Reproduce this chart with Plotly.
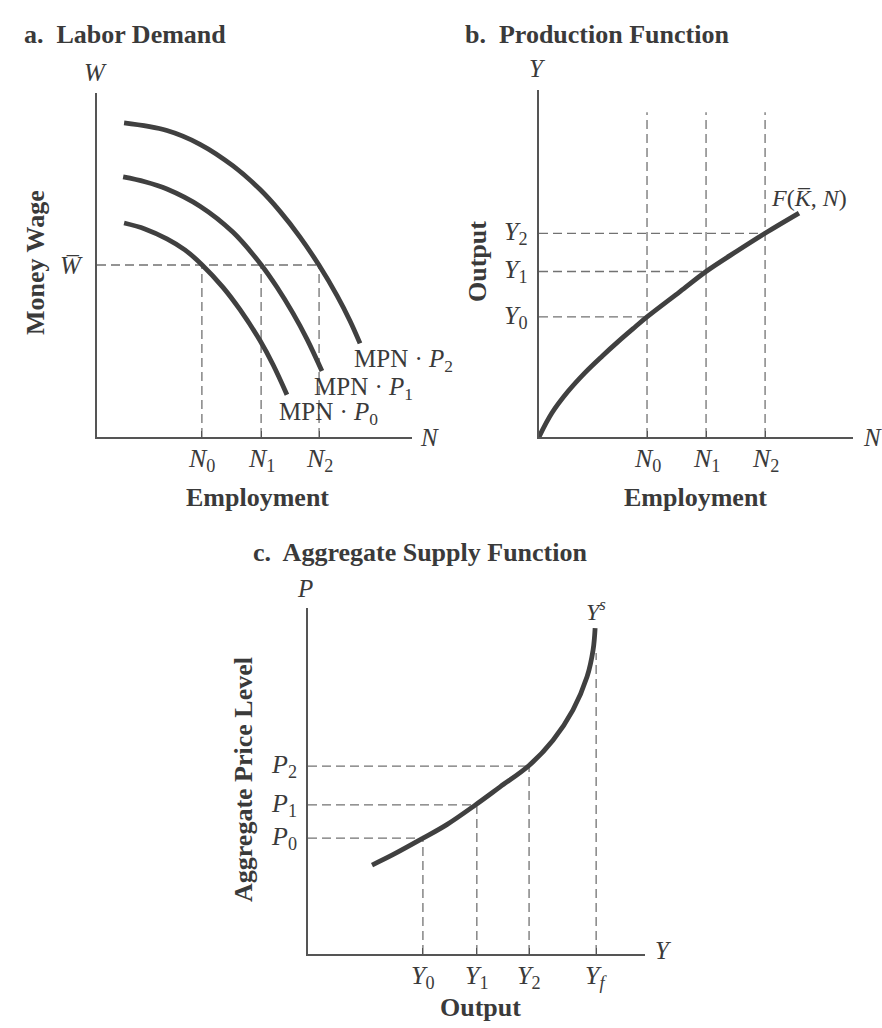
import plotly.graph_objects as go

# ---------------- data ----------------
# Panel a: labor demand (x: employment 0-10, y: money wage 0-10)
labor_N = [3.33, 5.21, 7.05]
labor_N_labels = ["<i>N</i><sub>0</sub>", "<i>N</i><sub>1</sub>", "<i>N</i><sub>2</sub>"]
wage_bar = 5.0
mpn_p0_x = [0.86, 1.52, 2.22, 2.79, 3.33, 4.00, 4.54, 5.17, 5.59, 6.03]
mpn_p0_y = [6.22, 6.05, 5.76, 5.44, 5.01, 4.35, 3.70, 2.81, 2.10, 1.23]
mpn_p1_x = [0.83, 1.52, 2.22, 3.27, 4.32, 5.21, 5.71, 6.22, 6.67, 7.14]
mpn_p1_y = [7.56, 7.42, 7.21, 6.71, 5.95, 5.01, 4.36, 3.60, 2.84, 1.92]
mpn_p2_x = [0.86, 2.22, 3.27, 4.32, 5.17, 5.81, 6.44, 7.05, 7.62, 8.03, 8.35]
mpn_p2_y = [9.13, 8.91, 8.51, 7.88, 7.20, 6.56, 5.82, 4.99, 4.11, 3.38, 2.72]
mpn_labels = ["MPN · <i>P</i><sub>0</sub>", "MPN · <i>P</i><sub>1</sub>", "MPN · <i>P</i><sub>2</sub>"]

# Panel b: production function
prod_N = [3.44, 5.32, 7.20]
prod_Y = [3.46, 4.77, 5.87]
prod_N_labels = labor_N_labels
prod_Y_labels = ["<i>Y</i><sub>0</sub>", "<i>Y</i><sub>1</sub>", "<i>Y</i><sub>2</sub>"]
prod_dash_top = 9.36
prod_x = [0.0, 0.41, 0.92, 1.46, 2.01, 2.52, 3.06, 3.44, 4.49, 5.32, 6.31, 7.20, 8.28]
prod_y = [0.0, 0.69, 1.31, 1.85, 2.33, 2.75, 3.17, 3.46, 4.19, 4.77, 5.36, 5.87, 6.45]

# Panel c: aggregate supply
as_Y = [3.41, 5.01, 6.56]
as_P = [3.35, 4.31, 5.43]
as_Yf = 8.55
as_Yf_top = 8.70
as_Y_labels = ["<i>Y</i><sub>0</sub>", "<i>Y</i><sub>1</sub>", "<i>Y</i><sub>2</sub>", "<i>Y</i><sub><i>f</i></sub>"]
as_P_labels = ["<i>P</i><sub>0</sub>", "<i>P</i><sub>1</sub>", "<i>P</i><sub>2</sub>"]
as_x = [1.90, 2.52, 3.40, 4.12, 4.97, 5.70, 6.55, 7.27, 7.86, 8.28, 8.46, 8.52]
as_y = [2.57, 2.87, 3.34, 3.74, 4.31, 4.83, 5.44, 6.18, 7.05, 8.01, 8.79, 9.42]

# ---------------- style ----------------
FW, FH = 882, 1028
SERIF = "Liberation Serif, Times New Roman, serif"
TXT = "#3a3a3a"
CURVE = dict(color="#404040", width=4.8, shape="spline", smoothing=1.0)
DASH = dict(color="#727272", width=1.3, dash="9px,5px")
AXC = "#555555"

fig = go.Figure()


def curve(x, y, xa, ya):
    fig.add_trace(go.Scatter(x=x, y=y, mode="lines", line=CURVE, xaxis=xa, yaxis=ya,
                             hoverinfo="skip"))


def dash(x, y, xa, ya):
    fig.add_trace(go.Scatter(x=x, y=y, mode="lines", line=DASH, xaxis=xa, yaxis=ya,
                             hoverinfo="skip"))


# panel a
dash([0, labor_N[2]], [wage_bar, wage_bar], "x", "y")
for n in labor_N:
    dash([n, n], [0, wage_bar], "x", "y")
curve(mpn_p0_x, mpn_p0_y, "x", "y")
curve(mpn_p1_x, mpn_p1_y, "x", "y")
curve(mpn_p2_x, mpn_p2_y, "x", "y")

# panel b
for n in prod_N:
    dash([n, n], [0, prod_dash_top], "x2", "y2")
for n, yv in zip(prod_N, prod_Y):
    dash([0, n], [yv, yv], "x2", "y2")
curve(prod_x, prod_y, "x2", "y2")

# panel c
for yv, pv in zip(as_Y, as_P):
    dash([0, yv], [pv, pv], "x3", "y3")
    dash([yv, yv], [0, pv], "x3", "y3")
dash([as_Yf, as_Yf], [0, as_Yf_top], "x3", "y3")
curve(as_x, as_y, "x3", "y3")


def px_x(p):
    return p / FW


def px_y(p):
    return 1 - p / FH


ax_common = dict(range=[0, 10], showgrid=False, zeroline=False, showline=True,
                 linecolor=AXC, linewidth=1.5, showticklabels=False, fixedrange=True)

layout_axes = dict(
    xaxis=dict(domain=[px_x(97), px_x(412)], anchor="y", ticks="inside", ticklen=6,
               tickcolor=AXC, tickwidth=1.3, tickvals=labor_N, **ax_common),
    yaxis=dict(domain=[px_y(437), px_y(93)], anchor="x", ticks="", **ax_common),
    xaxis2=dict(domain=[px_x(539), px_x(853)], anchor="y2", ticks="inside", ticklen=6,
                tickcolor=AXC, tickwidth=1.3, tickvals=prod_N, **ax_common),
    yaxis2=dict(domain=[px_y(437), px_y(90)], anchor="x2", ticks="", **ax_common),
    xaxis3=dict(domain=[px_x(308), px_x(645)], anchor="y3", ticks="inside", ticklen=6,
                tickcolor=AXC, tickwidth=1.3, tickvals=as_Y + [as_Yf], **ax_common),
    yaxis3=dict(domain=[px_y(954), px_y(608)], anchor="x3", ticks="", **ax_common),
)

ann = []


def A(text, x, y, xref="paper", yref="paper", size=26, xanchor="center", yanchor="middle",
      xshift=0, yshift=0, angle=0):
    ann.append(dict(text=text, x=x, y=y, xref=xref, yref=yref, showarrow=False,
                    xanchor=xanchor, yanchor=yanchor, xshift=xshift, yshift=yshift,
                    textangle=angle, font=dict(family=SERIF, size=size, color=TXT)))


# titles
A("<b>a.  Labor Demand</b>", px_x(22), px_y(35), size=26, xanchor="left")
A("<b>b.  Production Function</b>", px_x(463), px_y(35), size=26, xanchor="left")
A("<b>c.  Aggregate Supply Function</b>", px_x(251), px_y(552), size=26, xanchor="left")

# axis titles
A("<b>Money Wage</b>", px_x(35), px_y(263), size=26, angle=-90)
A("<b>Employment</b>", px_x(257), px_y(497), size=26)
A("<b>Output</b>", px_x(477), px_y(262), size=26, angle=-90)
A("<b>Employment</b>", px_x(695), px_y(497), size=26)
A("<b>Aggregate Price Level</b>", px_x(243), px_y(779), size=26, angle=-90)
A("<b>Output</b>", px_x(480), px_y(1007), size=26)

# axis end letters
A("<i>W</i>", 0, 1, "x domain", "y domain", size=25, xshift=-2, yshift=21)
A("<i>N</i>", 1, 0, "x domain", "y domain", size=25, xanchor="left", xshift=6)
A("<i>Y</i>", 0, 1, "x2 domain", "y2 domain", size=25, xshift=-2, yshift=22)
A("<i>N</i>", 1, 0, "x2 domain", "y2 domain", size=25, xanchor="left", xshift=8)
A("<i>P</i>", 0, 1, "x3 domain", "y3 domain", size=25, xshift=-3, yshift=20)
A("<i>Y</i>", 1, 0, "x3 domain", "y3 domain", size=25, xanchor="left", xshift=8, yshift=4)

# panel a tick labels
for n, lab in zip(labor_N, labor_N_labels):
    A(lab, n, 0, "x", "y", size=26, yshift=-23)
A("<i>W\u0305</i>", 0, wage_bar, "x", "y", size=25, xanchor="right", xshift=-12)
for lab, xv, yv in zip(mpn_labels, [5.72, 6.83, 8.10], [0.68, 1.42, 2.22]):
    A(lab, xv, yv, "x", "y", size=25, xanchor="left")

# panel b tick labels
for n, lab in zip(prod_N, prod_N_labels):
    A(lab, n, 0, "x2", "y2", size=26, yshift=-23)
for yv, lab in zip(prod_Y, prod_Y_labels):
    A(lab, 0, yv, "x2", "y2", size=26, xanchor="right", xshift=-9)
A("<i>F</i>(<i>K\u0305</i>, <i>N</i>)", 7.33, 6.89, "x2", "y2", xanchor="left", size=24)

# panel c tick labels
for xv, lab in zip(as_Y + [as_Yf], as_Y_labels):
    A(lab, xv, 0, "x3", "y3", size=26, yshift=-23)
for pv, lab in zip(as_P, as_P_labels):
    A(lab, 0, pv, "x3", "y3", size=26, xanchor="right", xshift=-9)
A("<i>Y</i><sup><i>s</i></sup>", as_Yf, 9.94, "x3", "y3", size=24)

fig.update_layout(
    width=FW, height=FH,
    margin=dict(l=0, r=0, t=0, b=0),
    paper_bgcolor="white", plot_bgcolor="white",
    showlegend=False,
    annotations=ann,
    **layout_axes,
)

fig.write_html(
    "out.html",
    config={"displayModeBar": False},
    post_script="document.body.style.margin='0';document.body.style.padding='0';"
                "document.body.style.overflow='hidden';",
)
